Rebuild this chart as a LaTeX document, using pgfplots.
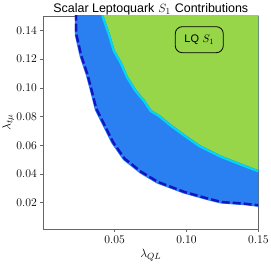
\documentclass[border=0pt]{standalone}
\usepackage{pgfplots}
\pgfplotsset{compat=1.18}
\usepackage{fontspec}
\newfontfamily\hv{Liberation Sans}
\definecolor{cblue}{RGB}{42,128,240}
\definecolor{cdark}{RGB}{20,20,195}
\definecolor{cgreen}{RGB}{150,214,72}
\definecolor{ccyan}{RGB}{0,215,240}
\begin{document}
\begin{tikzpicture}
\useasboundingbox (0,0) rectangle (271bp,264bp);
\begin{axis}[
  at={(43.3bp,35bp)}, anchor=south west,
  scale only axis, width=215bp, height=213bp,
  xmin=0.0003, xmax=0.15, ymin=0.0017, ymax=0.15,
  axis line style={draw=gray!80!black, line width=0.6pt},
  xtick={0.05,0.10,0.15}, xticklabels={0.05,0.10,0.15},
  ytick={0.02,0.04,0.06,0.08,0.10,0.12,0.14},
  yticklabels={0.02,0.04,0.06,0.08,0.10,0.12,0.14},
  tick align=outside, tick pos=left,
  major tick length=3bp,
  tick style={draw=gray!80!black, line width=0.5pt},
  ticklabel style={font=\fontsize{11.8}{13}\selectfont},
  xlabel={$\lambda_{QL}$}, ylabel={$\lambda_{t\mu}$},
  every axis x label/.style={at={(axis description cs:0.5,0)}, anchor=center, yshift=-26bp, font=\fontsize{12.5}{14}\selectfont},
  every axis y label/.style={at={(axis description cs:0,0.5)}, anchor=center, rotate=90, yshift=35bp, font=\fontsize{12.5}{14}\selectfont},
  title={{\hv Scalar Leptoquark} $S_1$ {\hv Contributions}},
  every axis title/.style={at={(axis description cs:0.5,1)}, anchor=base, yshift=3.5bp, font=\fontsize{12.5}{14}\selectfont},
  clip=true,
]
% blue allowed region (between inner boundary and edges)
\addplot[draw=none, fill=cblue] coordinates {
(0.0222,0.17) (0.0222,0.1507) (0.0222,0.1368) (0.0257,0.1215) (0.0299,0.1089)
(0.0327,0.0984) (0.0362,0.0845) (0.0397,0.0775) (0.0478,0.0613) (0.0559,0.0497)
(0.0676,0.0404) (0.0793,0.0334) (0.0886,0.0299) (0.0979,0.0264) (0.1143,0.0218)
(0.1236,0.0195) (0.1399,0.0183) (0.1503,0.0171) (0.17,0.0171) (0.17,0.17)} -- cycle;
% green region
\addplot[draw=none, fill=cgreen] coordinates {
(0.0424,0.17) (0.0424,0.150) (0.0466,0.1379) (0.0501,0.1263) (0.0548,0.1182)
(0.0594,0.1077) (0.0653,0.0984) (0.0711,0.0915) (0.0758,0.0845) (0.0816,0.0810)
(0.0886,0.0752) (0.0979,0.0683) (0.1096,0.0601) (0.1236,0.0531) (0.1352,0.0485)
(0.1503,0.0427) (0.17,0.0427) (0.17,0.17)} -- cycle;
% cyan edge band
\addplot[ccyan, line width=2.2bp] coordinates {
(0.0417,0.16) (0.0417,0.1493) (0.0459,0.1372) (0.0494,0.1256) (0.0541,0.1175)
(0.0587,0.1070) (0.0646,0.0977) (0.0704,0.0908) (0.0751,0.0838) (0.0809,0.0803)
(0.0879,0.0745) (0.0972,0.0676) (0.1089,0.0594) (0.1229,0.0524) (0.1345,0.0478)
(0.1496,0.0420) (0.16,0.0420)};
% dark blue inner edge band
\addplot[cdark, line width=2.4bp, dash pattern=on 8bp off 3bp] coordinates {
(0.0232,0.16) (0.0232,0.1517) (0.0232,0.1378) (0.0267,0.1225) (0.0309,0.1099)
(0.0337,0.0994) (0.0372,0.0855) (0.0407,0.0785) (0.0488,0.0623) (0.0569,0.0507)
(0.0686,0.0414) (0.0803,0.0344) (0.0896,0.0309) (0.0989,0.0274) (0.1153,0.0228)
(0.1246,0.0205) (0.1409,0.0193) (0.1513,0.0181) (0.16,0.0181)};
\node[draw=black, line width=0.8pt, rounded corners=7bp, minimum width=48bp,
  minimum height=26bp, inner sep=0pt, font=\fontsize{11}{12}\selectfont]
  at (axis cs:0.1089,0.1335) {{\hv LQ} $S_1$};
\end{axis}
\end{tikzpicture}
\end{document}
